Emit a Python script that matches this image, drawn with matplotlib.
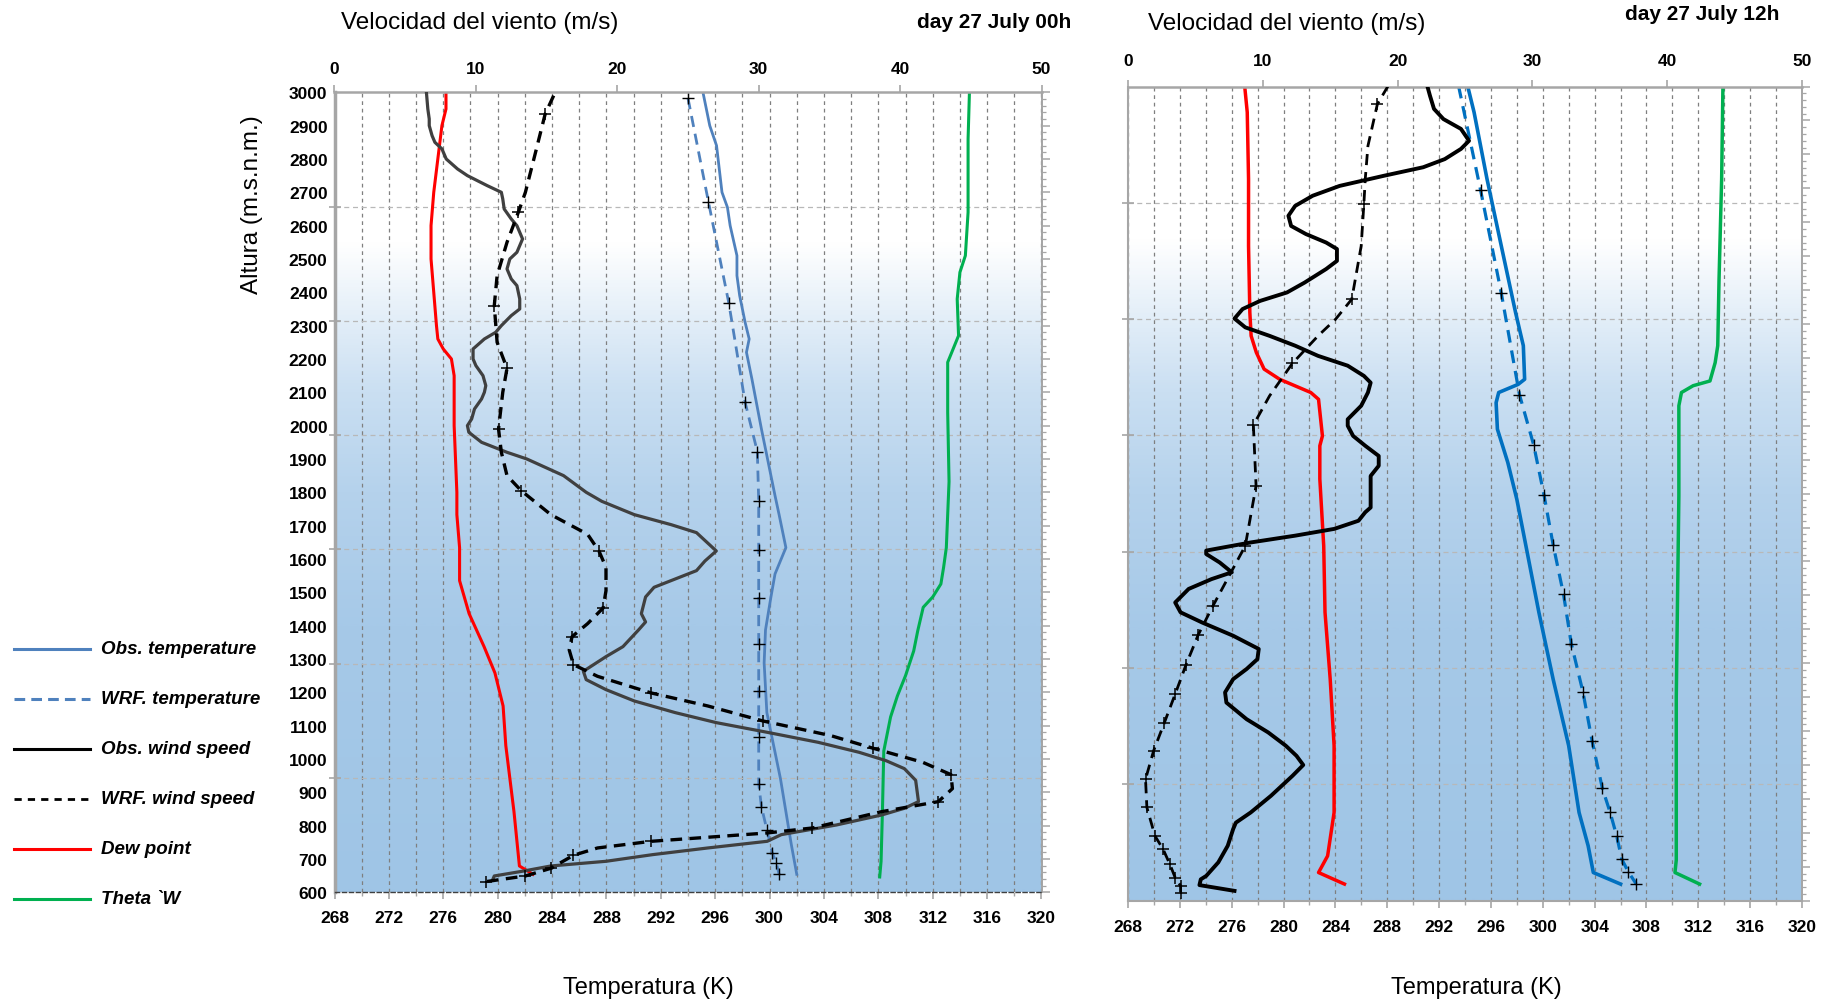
import numpy as np
import matplotlib
matplotlib.use('Agg')
import matplotlib.pyplot as plt
from matplotlib.colors import LinearSegmentedColormap
from matplotlib.lines import Line2D
from matplotlib.ticker import MultipleLocator
from matplotlib import font_manager as fm

# ---------------- DATA: 27 July 00h (left panel) ----------------
obs_wind_h_L = [3000, 2950, 2920, 2900, 2870, 2850, 2830, 2800, 2770, 2750, 2720, 2700, 2680, 2650, 2620,
                2600, 2560, 2520, 2500, 2470, 2440, 2420, 2380, 2350, 2330, 2300, 2280, 2260, 2230, 2200,
                2180, 2150, 2120, 2100, 2080, 2050, 2020, 2000, 1980, 1950, 1920, 1900, 1850, 1800, 1773,
                1733, 1703, 1679, 1624, 1594, 1565, 1535, 1515, 1486, 1436, 1411, 1387, 1337, 1307, 1263,
                1238, 1208, 1174, 1139, 1109, 1080, 1050, 1020, 995, 971, 936, 872, 852, 832, 802, 773,
                753, 733, 713, 693, 679, 664, 649, 639]
obs_wind_v_L = [6.5, 6.6, 6.7, 6.7, 6.9, 7.1, 7.6, 7.9, 8.7, 9.4, 10.8, 11.8, 11.9, 12.0, 12.5,
                12.9, 13.3, 12.9, 12.4, 12.2, 12.5, 12.9, 13.1, 13.1, 12.5, 11.8, 11.4, 10.6, 9.8, 9.8,
                10.0, 10.5, 10.7, 10.6, 10.4, 9.9, 9.7, 9.4, 9.5, 10.4, 12.2, 13.6, 16.2, 17.8, 18.9,
                21.2, 23.8, 25.6, 27.0, 26.2, 25.6, 23.8, 22.6, 22.0, 21.7, 22.0, 21.5, 20.4, 19.2, 17.6,
                17.8, 19.2, 21.2, 24.1, 27.0, 30.6, 34.2, 37.1, 39.0, 40.3, 41.1, 41.3, 40.3, 38.7, 35.5, 31.6,
                30.6, 26.4, 22.5, 19.2, 15.3, 13.4, 11.3, 11.2]

wrf_wind_h_L = [2990, 2935, 2800, 2700, 2640, 2550, 2450, 2360, 2250, 2172, 2100, 1990, 1920, 1850, 1805,
                1733, 1674, 1624, 1575, 1505, 1453, 1406, 1367, 1327, 1283, 1248, 1198, 1159, 1114, 1070,
                1032, 990, 953, 911, 872, 842, 793, 778, 763, 753, 733, 711, 672, 649, 632]
wrf_wind_v_L = [15.5, 14.9, 14.1, 13.5, 13.0, 12.2, 11.5, 11.3, 11.5, 12.2, 11.9, 11.6, 11.8, 12.2, 13.2,
                15.3, 17.9, 18.7, 19.2, 19.2, 19.0, 17.9, 16.8, 16.6, 16.9, 18.6, 22.4, 26.4, 30.3, 35.1,
                38.1, 41.6, 43.6, 43.7, 42.7, 38.7, 33.8, 30.6, 25.7, 22.4, 18.6, 16.9, 15.3, 13.5, 10.7]
wrf_wind_mark_L = [0, 1, 0, 0, 1, 0, 0, 1, 0, 1, 0, 1, 0, 0, 1,
                   0, 0, 1, 0, 0, 1, 0, 1, 0, 1, 0, 1, 0, 1, 0,
                   1, 0, 1, 0, 1, 0, 1, 0, 0, 1, 0, 1, 1, 1, 1]

dew_h_L = [3000, 2950, 2900, 2800, 2700, 2600, 2500, 2400, 2300, 2260, 2230, 2200, 2150, 2000, 1900,
           1800, 1733, 1634, 1535, 1436, 1337, 1258, 1159, 1040, 842, 679, 664, 654]
dew_T_L = [276.2, 276.2, 275.9, 275.6, 275.3, 275.1, 275.1, 275.3, 275.5, 275.6, 276.0, 276.6, 276.8, 276.8, 276.9,
           277.0, 277.0, 277.2, 277.2, 277.9, 279.0, 279.8, 280.4, 280.6, 281.2, 281.6, 282.2, 282.6]

obs_T_h_L = [3000, 2900, 2840, 2700, 2655, 2600, 2510, 2450, 2390, 2310, 2260, 2220, 2140, 1990, 1890,
             1790, 1733, 1634, 1555, 1486, 1387, 1288, 1139, 1040, 941, 842, 743, 654]
obs_T_v_L = [295.1, 295.6, 296.1, 296.5, 296.9, 297.1, 297.6, 297.6, 297.8, 298.2, 298.5, 298.3, 298.7, 299.4, 299.9,
             300.4, 300.7, 301.2, 300.4, 300.1, 299.7, 299.6, 299.8, 300.3, 300.8, 301.2, 301.6, 302.0]

wrf_T_h_L = [2982, 2672, 2368, 2070, 1922, 1775, 1626, 1483, 1344, 1203, 1065, 926, 857, 788, 718, 687, 654]
wrf_T_v_L = [294.0, 295.5, 297.0, 298.2, 299.1, 299.2, 299.2, 299.2, 299.2, 299.2, 299.2, 299.2, 299.4,
             299.8, 300.2, 300.5, 300.7]

theta_h_L = [3000, 2860, 2640, 2510, 2460, 2380, 2270, 2240, 2190, 2040, 1832, 1634, 1575, 1525, 1486,
             1455, 1420, 1385, 1324, 1250, 1189, 1126, 1024, 842, 693, 646]
theta_v_L = [314.7, 314.6, 314.6, 314.4, 314.0, 313.8, 313.9, 313.6, 313.1, 313.1, 313.2, 313.0, 312.8, 312.6, 312.0,
             311.3, 311.1, 310.9, 310.6, 310.0, 309.4, 308.9, 308.4, 308.3, 308.2, 308.1]

# ---------------- DATA: 27 July 12h (right panel) ----------------
obs_wind_h_R = [3002, 2973, 2934, 2904, 2875, 2840, 2816, 2786, 2762, 2737, 2707, 2678, 2648, 2619, 2589,
                2565, 2540, 2521, 2486, 2462, 2422, 2393, 2368, 2344, 2316, 2290, 2265, 2236, 2206, 2177,
                2147, 2127, 2098, 2059, 2019, 2000, 1970, 1941, 1911, 1882, 1852, 1759, 1745, 1720, 1696,
                1676, 1656, 1632, 1622, 1597, 1568, 1548, 1519, 1479, 1450, 1420, 1381, 1342, 1312, 1283,
                1253, 1214, 1184, 1135, 1096, 1057, 1027, 1000, 968, 909, 860, 830, 811, 762, 713,
                673, 663, 646, 629]
obs_wind_v_R = [22.2, 22.4, 22.7, 23.4, 24.7, 25.3, 24.7, 23.5, 21.9, 19.0, 15.7, 13.7, 12.4, 11.9, 12.1,
                13.2, 14.7, 15.5, 15.5, 14.7, 13.1, 11.8, 9.8, 8.5, 7.9, 8.7, 10.5, 12.4, 14.1, 16.3,
                17.5, 18.0, 17.8, 17.3, 16.3, 16.3, 16.7, 17.6, 18.6, 18.6, 18.0, 18.0, 17.6, 17.1, 15.3,
                12.4, 9.1, 5.8, 5.8, 6.8, 7.7, 6.2, 4.5, 3.5, 3.9, 5.5, 7.8, 9.7, 9.6, 8.8,
                7.8, 7.2, 7.3, 8.8, 10.4, 11.7, 12.5, 13.0, 12.2, 10.6, 9.1, 8.0, 7.8, 7.4, 6.7,
                5.8, 5.4, 5.3, 7.9]

wrf_wind_h_R = [3002, 2948, 2825, 2727, 2655, 2530, 2373, 2314, 2265, 2184, 2088, 2002, 1823, 1646, 1469,
                1383, 1295, 1209, 1125, 1042, 958, 875, 791, 752, 708, 668, 644, 624]
wrf_wind_v_R = [19.3, 18.5, 17.8, 17.6, 17.5, 17.3, 16.6, 15.4, 14.1, 12.2, 10.5, 9.3, 9.5, 8.7, 6.3,
                5.2, 4.3, 3.5, 2.7, 1.9, 1.3, 1.4, 2.0, 2.6, 3.1, 3.5, 3.9, 3.9]
wrf_wind_mark_R = [0, 1, 0, 0, 1, 0, 1, 0, 0, 1, 0, 1, 1, 1, 1,
                   1, 1, 1, 1, 1, 1, 1, 1, 1, 1, 1, 1, 1]

dew_h_R = [3002, 2924, 2727, 2530, 2334, 2265, 2216, 2167, 2137, 2098, 2078, 1970, 1941, 1843, 1646,
           1450, 1253, 1057, 860, 732, 683, 649]
dew_T_R = [277.0, 277.2, 277.3, 277.3, 277.4, 277.5, 277.9, 278.5, 279.7, 282.1, 282.7, 283.0, 282.8, 282.8, 283.1,
           283.2, 283.6, 283.9, 283.9, 283.4, 282.7, 284.7]

obs_T_h_R = [3002, 2924, 2727, 2530, 2334, 2236, 2137, 2122, 2098, 2068, 1990, 1892, 1783, 1646, 1450,
             1253, 1057, 860, 762, 683, 649]
obs_T_v_R = [294.2, 294.7, 295.7, 296.8, 297.9, 298.5, 298.6, 298.1, 296.6, 296.4, 296.5, 297.3, 298.0, 298.7, 299.7,
             300.8, 302.0, 302.8, 303.5, 303.9, 306.0]

wrf_T_h_R = [3002, 2695, 2391, 2092, 1943, 1795, 1649, 1503, 1358, 1215, 1072, 931, 860, 791, 722, 685, 650]
wrf_T_v_R = [293.5, 295.2, 296.8, 298.2, 299.3, 300.1, 300.8, 301.6, 302.2, 303.1, 303.8, 304.6, 305.2,
             305.7, 306.1, 306.6, 307.2]
wrf_T_mark_R = [0, 1, 1, 1, 1, 1, 1, 1, 1, 1, 1, 1, 1, 1, 1, 1, 1]

theta_h_R = [3002, 2727, 2432, 2236, 2186, 2132, 2118, 2098, 2059, 1793, 1500, 1200, 900, 720, 683, 649]
theta_v_R = [313.9, 313.8, 313.6, 313.5, 313.3, 312.9, 311.6, 310.7, 310.5, 310.5, 310.4, 310.3, 310.3,
             310.3, 310.2, 312.1]

# axis labels / ticks
temp_ticks = list(range(268, 321, 4))
wind_ticks = list(range(0, 51, 10))
alt_ticks = list(range(600, 3001, 100))
legend_labels = ['Obs. temperature', 'WRF. temperature', 'Obs. wind speed', 'WRF. wind speed',
                 'Dew point', 'Theta `W']

# background gradient stops (altitude, colour)
bg_alt = [600, 1400, 1800, 2100, 2350, 2550, 3000]
bg_col = ['#9fc5e6', '#a6c9e8', '#b5d2ec', '#cadff2', '#e6f0f9', '#ffffff', '#ffffff']

# ---------------- FONTS ----------------
installed = {f.name for f in fm.fontManager.ttflist}
FONT = ['Liberation Sans', 'DejaVu Sans']
plt.rcParams['font.family'] = FONT
if 'Liberation Sans Narrow' in installed:
    NARROW = ['Liberation Sans Narrow', 'DejaVu Sans']
    tick_size, day_size = 14, 17
else:
    NARROW = FONT
    tick_size, day_size = 12.5, 15

W, H = 1829, 1003
fig = plt.figure(figsize=(W / 100, H / 100), dpi=100)


def fa(x0, y0, x1, y1):
    return [x0 / W, 1 - y1 / H, (x1 - x0) / W, (y1 - y0) / H]


GRAY = '#a6a6a6'
cmap = LinearSegmentedColormap.from_list(
    'bg', list(zip([(a - 600) / 2400 for a in bg_alt], bg_col)))


def style_labels(labels):
    for lab in labels:
        lab.set_fontweight('bold')
        lab.set_family(NARROW)
        lab.set_fontsize(tick_size)


def setup(ax, ylabels, bottom_dashed, left_lw, top_pad, bot_pad):
    grad = np.linspace(0, 1, 600).reshape(-1, 1)
    ax.imshow(grad, extent=(268, 320, 600, 3000), origin='lower', aspect='auto',
              cmap=cmap, zorder=0, interpolation='bilinear')
    ax.set_xlim(268, 320)
    ax.set_ylim(600, 3000)
    ax.set_axisbelow(True)
    ax.set_xticks(temp_ticks)
    ax.set_xticks(np.arange(270, 320, 2), minor=True)
    ax.grid(which='both', axis='x', color='#7f7f7f', linestyle=(0, (3, 3)), linewidth=0.9)
    ax.set_yticks(alt_ticks)
    ax.set_yticks(np.linspace(600, 3000, 8)[1:-1], minor=True)
    ax.grid(which='minor', axis='y', color='#b8b8b8', linestyle=(0, (4, 3)), linewidth=0.9)
    ax.tick_params(axis='y', which='major', length=0, pad=5, labelleft=ylabels)
    ax.tick_params(axis='y', which='minor', length=8, direction='inout', color=GRAY, width=1.2)
    ax.tick_params(axis='x', which='major', length=5, color=GRAY, width=1.2, pad=bot_pad)
    ax.tick_params(axis='x', which='minor', length=3, color=GRAY, width=1)
    style_labels(ax.get_xticklabels() + ax.get_yticklabels())
    ax.spines['left'].set_color(GRAY)
    ax.spines['left'].set_linewidth(left_lw)
    ax.spines['top'].set_visible(False)
    ax.spines['right'].set_color(GRAY)
    ax.spines['right'].set_linewidth(1.3)
    if bottom_dashed:
        ax.spines['bottom'].set_color('#404040')
        ax.spines['bottom'].set_linestyle((0, (3, 2)))
        ax.spines['bottom'].set_linewidth(1.0)
    else:
        ax.spines['bottom'].set_color(GRAY)
        ax.spines['bottom'].set_linewidth(1.5)
    sec = ax.secondary_yaxis('right')
    sec.set_yticks(alt_ticks)
    sec.yaxis.set_minor_locator(MultipleLocator(20))
    sec.tick_params(which='major', length=6, color=GRAY, width=1.1, labelright=False)
    sec.tick_params(which='minor', length=3, color=GRAY, width=0.9)
    sec.spines['right'].set_color(GRAY)
    sec.spines['right'].set_linewidth(1.3)
    axw = ax.twiny()
    axw.set_xlim(0, 50)
    axw.set_xticks(wind_ticks)
    axw.tick_params(axis='x', which='major', direction='out', length=5, color=GRAY, width=1.2,
                    pad=top_pad)
    style_labels(axw.get_xticklabels())
    for s in ['left', 'right', 'bottom']:
        axw.spines[s].set_visible(False)
    axw.spines['top'].set_color(GRAY)
    axw.spines['top'].set_linewidth(1.8)
    return axw


axL = fig.add_axes(fa(334.5, 93.3, 1041.5, 893.3))
axR = fig.add_axes(fa(1128, 87.5, 1802, 901.7))
awL = setup(axL, True, True, 2.5, 7, 8)
awR = setup(axR, False, False, 1.5, 8, 8)

# ---- left panel series ----
BLUE_L = '#4f81bd'
axL.plot(dew_T_L, dew_h_L, color='#ff0000', lw=2.2, zorder=3)
axL.plot(theta_v_L, theta_h_L, color='#00b050', lw=2.2, zorder=3)
axL.plot(obs_T_v_L, obs_T_h_L, color=BLUE_L, lw=2.0, zorder=3)
axL.plot(wrf_T_v_L, wrf_T_h_L, color=BLUE_L, lw=2.0, linestyle=(0, (4, 2.5)), zorder=3,
         marker='+', markersize=8, markeredgecolor='black', markeredgewidth=1.0)
awL.plot(obs_wind_v_L, obs_wind_h_L, color='#404040', lw=2.3, zorder=3)
awL.plot(wrf_wind_v_L, wrf_wind_h_L, color='black', lw=2.4, linestyle=(0, (3.5, 2.2)), zorder=3,
         marker='+', markersize=8, markeredgewidth=1.1, markevery=[bool(m) for m in wrf_wind_mark_L])

# ---- right panel series ----
BLUE_R = '#0070c0'
axR.plot(dew_T_R, dew_h_R, color='#ff0000', lw=2.5, zorder=3)
axR.plot(theta_v_R, theta_h_R, color='#00b050', lw=2.5, zorder=3)
axR.plot(obs_T_v_R, obs_T_h_R, color=BLUE_R, lw=2.6, zorder=3)
axR.plot(wrf_T_v_R, wrf_T_h_R, color=BLUE_R, lw=2.3, linestyle=(0, (4, 2.5)), zorder=3,
         marker='+', markersize=8, markeredgecolor='black', markeredgewidth=1.0,
         markevery=[bool(m) for m in wrf_T_mark_R])
awR.plot(obs_wind_v_R, obs_wind_h_R, color='black', lw=2.8, zorder=3)
awR.plot(wrf_wind_v_R, wrf_wind_h_R, color='black', lw=2.0, linestyle=(0, (4, 2.5)), zorder=3,
         marker='+', markersize=8, markeredgewidth=1.1, markevery=[bool(m) for m in wrf_wind_mark_R])

# ---- texts ----
fig.text(480 / W, 1 - 23 / H, 'Velocidad del viento (m/s)', ha='center', va='center', fontsize=17.5)
fig.text(1071 / W, 1 - 23 / H, 'day 27 July 00h', ha='right', va='center', fontsize=day_size,
         fontweight='bold', family=NARROW)
fig.text(1287 / W, 1 - 24 / H, 'Velocidad del viento (m/s)', ha='center', va='center', fontsize=17.5)
fig.text(1779 / W, 1 - 15 / H, 'day 27 July 12h', ha='right', va='center', fontsize=day_size,
         fontweight='bold', family=NARROW)
fig.text(648 / W, 1 - 988 / H, 'Temperatura (K)', ha='center', va='center', fontsize=17)
fig.text(1476 / W, 1 - 988 / H, 'Temperatura (K)', ha='center', va='center', fontsize=17)
fig.text(252 / W, 1 - 205 / H, 'Altura (m.s.n.m.)', ha='center', va='center', fontsize=17.5,
         rotation=90)

# ---- legend (manual, in figure coordinates) ----
leg_styles = [(BLUE_L, '-', 2.2), (BLUE_L, (0, (3.5, 2)), 2.2), ('black', '-', 2.2),
              ('black', (0, (2.6, 2.2)), 2.0), ('#ff0000', '-', 2.2), ('#00b050', '-', 2.2)]
for i, (lab, (c, ls, lw)) in enumerate(zip(legend_labels, leg_styles)):
    y = 1 - (650 + 50 * i) / H
    fig.add_artist(Line2D([14 / W, 90 / W], [y, y], transform=fig.transFigure, color=c,
                          linestyle=ls, lw=lw))
    fig.text(101 / W, y, lab, ha='left', va='center', fontsize=13.5, fontweight='bold',
             fontstyle='italic')

fig.savefig('out.png', dpi=100)
